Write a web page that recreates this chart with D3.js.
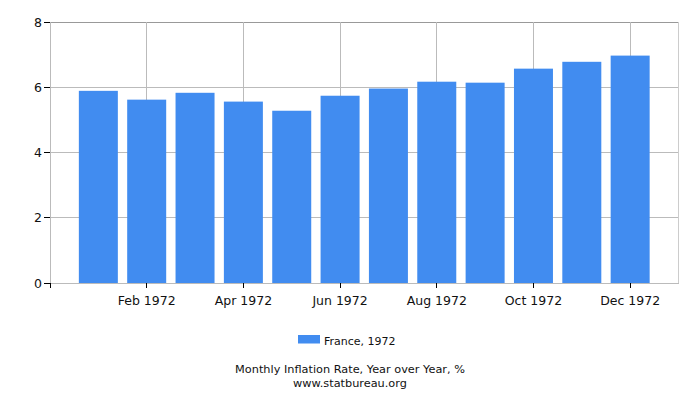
<!DOCTYPE html>
<html><head><meta charset="utf-8">
<script src="https://cdn.jsdelivr.net/npm/d3@7"></script>
<style>body{margin:0;background:#fff}svg{display:block}text{font-family:"DejaVu Sans",sans-serif;fill:#111}</style>
</head><body><div id="c"></div>
<script>
const months = ["Jan 1972","Feb 1972","Mar 1972","Apr 1972","May 1972","Jun 1972","Jul 1972","Aug 1972","Sep 1972","Oct 1972","Nov 1972","Dec 1972"];
const values = [5.89, 5.62, 5.83, 5.56, 5.28, 5.74, 5.96, 6.17, 6.14, 6.57, 6.78, 6.97];
const yTicks = [0, 2, 4, 6, 8];
const xTickLabels = ["Feb 1972","Apr 1972","Jun 1972","Aug 1972","Oct 1972","Dec 1972"];
const seriesName = "France, 1972";
const title = "Monthly Inflation Rate, Year over Year, %";
const source = "www.statbureau.org";

const W = 700, H = 400;
const m = {l: 50, r: 678.5, t: 22, b: 283};
const svg = d3.select("#c").append("svg").attr("width", W).attr("height", H);

const x = d3.scaleLinear().domain([-1, 12]).range([m.l, m.r]);
const y = d3.scaleLinear().domain([0, 8]).range([m.b, m.t]);
const bw = 39;

// horizontal grid
svg.append("g").selectAll("line").data(yTicks.filter(d => d > 0)).join("line")
  .attr("x1", m.l).attr("x2", m.r).attr("y1", d => y(d)).attr("y2", d => y(d))
  .attr("stroke", d => d === 8 ? "#999" : "#bbb").attr("stroke-width", 1).attr("shape-rendering", "crispEdges");
// vertical grid
const xTickIdx = xTickLabels.map(l => months.indexOf(l));
svg.append("g").selectAll("line").data(xTickIdx).join("line")
  .attr("x1", d => x(d)).attr("x2", d => x(d)).attr("y1", m.t).attr("y2", m.b)
  .attr("stroke", "#bbb").attr("shape-rendering", "crispEdges");
// right border
svg.append("line").attr("x1", m.r).attr("x2", m.r).attr("y1", m.t).attr("y2", m.b)
  .attr("stroke", "#ccc").attr("shape-rendering", "crispEdges");
// left border
svg.append("line").attr("x1", m.l).attr("x2", m.l).attr("y1", m.t).attr("y2", m.b)
  .attr("stroke", "#bbb").attr("shape-rendering", "crispEdges");

// bars
svg.append("g").selectAll("rect").data(values).join("rect")
  .attr("x", (d, i) => x(i) - bw / 2).attr("width", bw)
  .attr("y", d => y(d)).attr("height", d => y(0) - y(d))
  .attr("fill", "#418cf0");

// bottom axis line
svg.append("line").attr("x1", m.l).attr("x2", m.r).attr("y1", m.b).attr("y2", m.b)
  .attr("stroke", "#bbb").attr("shape-rendering", "crispEdges");

// x ticks
const xa = svg.append("g");
xa.selectAll("line").data([-1].concat(xTickIdx)).join("line")
  .attr("x1", d => x(d)).attr("x2", d => x(d)).attr("y1", m.b).attr("y2", m.b + 5)
  .attr("stroke", "#000").attr("shape-rendering", "crispEdges");
xa.selectAll("text").data(xTickLabels).join("text")
  .attr("x", d => x(months.indexOf(d))).attr("y", m.b + 22)
  .attr("text-anchor", "middle").attr("font-size", "12.5px").text(d => d);

// y ticks
const ya = svg.append("g");
ya.selectAll("line").data(yTicks).join("line")
  .attr("x1", m.l - 6).attr("x2", m.l).attr("y1", d => y(d)).attr("y2", d => y(d))
  .attr("stroke", "#000").attr("shape-rendering", "crispEdges");
ya.selectAll("text").data(yTicks).join("text")
  .attr("x", m.l - 8).attr("y", d => y(d) + 4.5)
  .attr("text-anchor", "end").attr("font-size", "12.5px").text(d => d);

// legend
svg.append("rect").attr("x", 298).attr("y", 335).attr("width", 22).attr("height", 8.5).attr("fill", "#418cf0");
svg.append("text").attr("x", 324).attr("y", 345).attr("font-size", "11px").text(seriesName);

// title
svg.append("text").attr("x", 350).attr("y", 373).attr("text-anchor", "middle").attr("font-size", "11.3px").text(title);
svg.append("text").attr("x", 350).attr("y", 386.5).attr("text-anchor", "middle").attr("font-size", "11.3px").text(source);
</script></body></html>
